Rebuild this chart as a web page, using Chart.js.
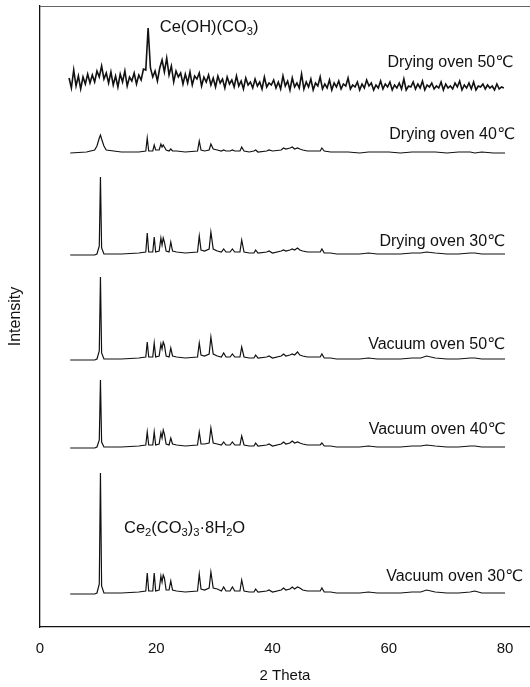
<!DOCTYPE html>
<html>
<head>
<meta charset="utf-8">
<title>XRD patterns</title>
<script src="https://cdn.jsdelivr.net/npm/chart.js@4.4.1/dist/chart.umd.min.js"></script>
<style>
  html, body { margin: 0; padding: 0; background: #fff; }
  #xrd { display: block; }
</style>
</head>
<body>
<canvas id="xrd" width="530" height="687"></canvas>
<script>
// 2 theta positions of the noisy scan (Drying oven 50)
const noisyTheta = [
  5.0, 5.4, 5.8, 6.2, 6.6, 7.0, 7.4, 7.8, 8.2, 8.6,
  9.0, 9.4, 9.8, 10.2, 10.6, 11.0, 11.4, 11.8, 12.2, 12.6,
  13.0, 13.4, 13.8, 14.2, 14.6, 15.0, 15.4, 15.8, 16.2, 16.6,
  17.0, 17.4, 17.8, 18.2, 18.6, 19.0, 19.4, 19.8, 20.2, 20.6,
  21.0, 21.4, 21.8, 22.2, 22.6, 23.0, 23.4, 23.8, 24.2, 24.6,
  25.0, 25.4, 25.8, 26.2, 26.6, 27.0, 27.4, 27.8, 28.2, 28.6,
  29.0, 29.4, 29.8, 30.2, 30.6, 31.0, 31.4, 31.8, 32.2, 32.6,
  33.0, 33.4, 33.8, 34.2, 34.6, 35.0, 35.4, 35.8, 36.2, 36.6,
  37.0, 37.4, 37.8, 38.2, 38.6, 39.0, 39.4, 39.8, 40.2, 40.6,
  41.0, 41.4, 41.8, 42.2, 42.6, 43.0, 43.4, 43.8, 44.2, 44.6,
  45.0, 45.4, 45.8, 46.2, 46.6, 47.0, 47.4, 47.8, 48.2, 48.6,
  49.0, 49.4, 49.8, 50.2, 50.6, 51.0, 51.4, 51.8, 52.2, 52.6,
  53.0, 53.4, 53.8, 54.2, 54.6, 55.0, 55.4, 55.8, 56.2, 56.6,
  57.0, 57.4, 57.8, 58.2, 58.6, 59.0, 59.4, 59.8, 60.2, 60.6,
  61.0, 61.4, 61.8, 62.2, 62.6, 63.0, 63.4, 63.8, 64.2, 64.6,
  65.0, 65.4, 65.8, 66.2, 66.6, 67.0, 67.4, 67.8, 68.2, 68.6,
  69.0, 69.4, 69.8, 70.2, 70.6, 71.0, 71.4, 71.8, 72.2, 72.6,
  73.0, 73.4, 73.8, 74.2, 74.6, 75.0, 75.4, 75.8, 76.2, 76.6,
  77.0, 77.4, 77.8, 78.2, 78.6, 79.0, 79.4, 79.8
]

const dryingOven50 = [
  2, -8, 10, -6, 4, -9, 3, -4, 6, -3,
  5, -2, 9, 3, 14, 1, 7, -3, 8, -5,
  4, -7, 6, -2, 9, -6, 3, -1, 7, -4,
  5, 0, 11, 10, 52, 12, 3, 9, -1, 12,
  20, 8, 22, 5, 14, -2, 9, 3, 7, -4,
  6, -3, 8, -5, 4, 1, 7, -6, 3, -2,
  5, -5, 2, -7, 4, -3, 1, -8, 3, -4,
  0, -7, 4, -6, -1, -9, 2, -5, -2, -8,
  1, -6, -2, -9, 3, -7, -3, -5, 0, -8,
  -2, -9, 4, -6, -1, -10, 2, -7, -3, -8,
  6, -9, -2, -7, 1, -10, -3, -6, 3, -9,
  -4, -8, 0, -10, -3, -7, -1, -9, -4, -6,
  2, -9, -5, -7, -2, -10, -4, -8, 0, -6,
  -3, -10, -5, -8, -1, -9, -4, -7, -2, -10,
  -5, -8, -3, -9, 1, -10, -6, -7, -2, -9,
  -4, -8, -1, -10, -5, -7, -3, -9, -6, -8,
  -2, -10, -4, -8, -6, -9, -3, -7, -1, -10,
  -5, -8, -3, -9, -2, -10, -6, -7, -4, -9,
  -5, -8, -6, -10, -4, -9, -7, -8
]

// 2 theta positions read for the crystalline scans
const peakTheta = [
  5.2, 8.0, 9.4, 9.8, 10.2, 10.4, 10.6, 11.0, 11.4, 14.0,
  17.0, 18.2, 18.45, 18.7, 19.4, 19.65, 19.9, 20.5, 20.8, 21.0,
  21.2, 21.4, 21.7, 22.2, 22.5, 22.8, 23.5, 25.0, 27.1, 27.4,
  27.7, 28.3, 29.1, 29.4, 29.8, 30.5, 31.2, 31.6, 32.0, 32.7,
  33.1, 33.5, 34.4, 34.7, 35.1, 36.0, 36.8, 37.1, 37.5, 39.0,
  39.4, 40.0, 41.5, 41.9, 42.3, 43.0, 43.4, 43.8, 44.3, 44.7,
  45.2, 46.0, 47.0, 48.2, 48.5, 48.9, 50.0, 51.0, 53.0, 55.0,
  56.5, 58.0, 60.0, 62.0, 64.0, 65.5, 66.5, 68.0, 70.0, 72.0,
  74.0, 74.8, 76.0, 78.0, 80.0
]

const dryingOven40 = [
  0, 1, 3, 7, 15, 18, 14, 7, 3, 1,
  1, 2, 15, 2, 2, 8, 3, 3, 9, 6,
  8, 6, 3, 2, 4, 2, 2, 1, 2, 12,
  3, 2, 3, 9, 4, 3, 2, 3, 2, 2,
  3, 2, 2, 6, 2, 1, 2, 3, 1, 2,
  3, 2, 3, 5, 4, 5, 6, 4, 5, 4,
  3, 2, 2, 2, 5, 2, 1, 1, 1, 0,
  1, 1, 1, 0, 1, 1, 1, 1, 0, 1,
  1, 0, 1, 0, 0
]

const dryingOven30 = [
  0, 0, 0, 1, 9, 78, 7, 1, 1, 1,
  2, 3, 22, 3, 3, 18, 3, 4, 17, 10,
  17, 13, 4, 3, 13, 4, 3, 2, 3, 19,
  5, 4, 6, 23, 6, 4, 3, 6, 3, 3,
  6, 3, 3, 15, 3, 2, 2, 5, 2, 3,
  4, 2, 4, 5, 4, 5, 6, 5, 7, 5,
  4, 3, 3, 3, 6, 2, 2, 1, 1, 1,
  2, 1, 1, 1, 2, 2, 3, 2, 1, 1,
  2, 2, 1, 1, 1
]

const vacuumOven50 = [
  0, 0, 0, 1, 9, 83, 7, 1, 1, 1,
  2, 3, 18, 3, 3, 17, 3, 4, 16, 11,
  18, 15, 4, 3, 12, 4, 3, 2, 3, 17,
  5, 4, 6, 23, 6, 4, 3, 7, 3, 3,
  6, 3, 3, 13, 3, 2, 2, 5, 2, 3,
  4, 2, 4, 6, 4, 5, 6, 5, 8, 5,
  4, 3, 3, 3, 6, 2, 2, 1, 1, 1,
  2, 1, 1, 1, 2, 2, 4, 2, 1, 1,
  2, 2, 1, 1, 1
]

const vacuumOven40 = [
  0, 0, 0, 1, 8, 68, 6, 1, 1, 1,
  2, 3, 16, 3, 3, 16, 3, 4, 15, 10,
  18, 14, 4, 3, 10, 4, 3, 2, 3, 16,
  4, 4, 5, 20, 5, 4, 3, 6, 3, 3,
  6, 3, 3, 12, 3, 2, 2, 5, 2, 3,
  4, 2, 4, 6, 4, 5, 7, 5, 6, 5,
  4, 3, 3, 3, 5, 2, 2, 1, 1, 1,
  2, 1, 1, 1, 2, 2, 3, 2, 1, 1,
  2, 2, 1, 1, 1
]

const vacuumOven30 = [
  0, 0, 0, 1, 10, 121, 8, 1, 1, 1,
  2, 3, 21, 3, 3, 21, 3, 4, 18, 12,
  19, 16, 4, 4, 13, 4, 3, 2, 3, 20,
  5, 4, 6, 22, 6, 5, 3, 7, 3, 3,
  7, 3, 3, 14, 3, 2, 2, 5, 2, 3,
  4, 2, 4, 6, 4, 5, 7, 5, 7, 6,
  4, 3, 3, 3, 6, 2, 2, 1, 1, 1,
  2, 1, 1, 1, 2, 2, 4, 2, 1, 1,
  2, 3, 1, 1, 1
]

const seriesNames = [
  'Drying oven 50℃', 'Drying oven 40℃', 'Drying oven 30℃',
  'Vacuum oven 50℃', 'Vacuum oven 40℃', 'Vacuum oven 30℃'
]
// vertical stacking of the patterns (a.u.)
const traceOffsets = [547, 474, 372, 267, 179, 33]
const xTicks = [0, 20, 40, 60, 80]

// where each name sits: right end (2 theta) and height (a.u.)
const nameSpots = [
  [81.4, 564], [81.7, 492], [80.0, 385], [80.0, 282], [80.1, 197], [83.1, 50]
]
// phase labels, [text, subscript?] parts
const phaseTop = [['Ce(OH)(CO', 0], ['3', 1], [')', 0]]
const phaseBottom = [['Ce', 0], ['2', 1], ['(CO', 0], ['3', 1], [')', 0], ['3', 1], ['·8H', 0], ['2', 1], ['O', 0]]

const FONT = '"Liberation Sans", Arial, "DejaVu Sans", sans-serif'
const INK = '#111'

function toPoints (theta, values, offset) {
  return theta.map((t, i) => ({ x: t, y: offset + values[i] }))
}

function makeDataset (name, theta, values, offset, width) {
  return {
    label: name,
    data: toPoints(theta, values, offset),
    borderColor: INK,
    borderWidth: width,
    pointRadius: 0,
    tension: 0,
    fill: false
  }
}

function drawRich (ctx, parts, x, y, size) {
  let cx = x
  parts.forEach(([txt, sub]) => {
    const s = sub ? size * 0.68 : size
    ctx.font = `${s}px ${FONT}`
    ctx.fillText(txt, cx, sub ? y + size * 0.28 : y)
    cx += ctx.measureText(txt).width
  })
}

const labelPlugin = {
  id: 'xrdLabels',
  afterDatasetsDraw (chart) {
    const { ctx, chartArea, scales } = chart
    const xs = scales.x
    const ys = scales.y
    ctx.save()
    // top frame line
    ctx.strokeStyle = '#666'
    ctx.lineWidth = 1
    ctx.beginPath()
    ctx.moveTo(chartArea.left, chartArea.top + 0.5)
    ctx.lineTo(chartArea.right, chartArea.top + 0.5)
    ctx.stroke()

    ctx.fillStyle = INK
    ctx.textBaseline = 'middle'
    ctx.textAlign = 'right'
    ctx.font = `16px ${FONT}`
    seriesNames.forEach((name, i) => {
      const [t, v] = nameSpots[i]
      ctx.fillText(name, xs.getPixelForValue(t), ys.getPixelForValue(v))
    })
    ctx.textAlign = 'left'
    drawRich(ctx, phaseTop, xs.getPixelForValue(20.6), ys.getPixelForValue(600), 16.5)
    drawRich(ctx, phaseBottom, xs.getPixelForValue(14.45), ys.getPixelForValue(99), 16.5)
    ctx.restore()
  }
}

const datasets = [
  makeDataset(seriesNames[0], noisyTheta, dryingOven50, traceOffsets[0], 1.6),
  makeDataset(seriesNames[1], peakTheta, dryingOven40, traceOffsets[1], 1.2),
  makeDataset(seriesNames[2], peakTheta, dryingOven30, traceOffsets[2], 1.2),
  makeDataset(seriesNames[3], peakTheta, vacuumOven50, traceOffsets[3], 1.2),
  makeDataset(seriesNames[4], peakTheta, vacuumOven40, traceOffsets[4], 1.2),
  makeDataset(seriesNames[5], peakTheta, vacuumOven30, traceOffsets[5], 1.2)
]

new Chart(document.getElementById('xrd').getContext('2d'), {
  type: 'line',
  data: { datasets },
  options: {
    responsive: false,
    devicePixelRatio: 1,
    animation: false,
    layout: { padding: { top: 6, left: 0, right: 0, bottom: 0 } },
    plugins: {
      legend: { display: false },
      tooltip: { enabled: false }
    },
    scales: {
      x: {
        type: 'linear',
        min: 0,
        max: 84.3,
        afterBuildTicks: axis => { axis.ticks = xTicks.map(v => ({ value: v })) },
        afterFit: axis => { axis.height = 60 },
        grid: { display: false, drawTicks: false },
        border: { display: true, color: INK, width: 1.3 },
        ticks: {
          padding: 13,
          maxRotation: 0,
          color: INK,
          font: { family: FONT, size: 15 }
        },
        title: {
          display: true,
          text: '2 Theta',
          color: INK,
          font: { family: FONT, size: 15 },
          padding: { top: 0, bottom: 2 }
        }
      },
      y: {
        type: 'linear',
        min: 0,
        max: 621,
        afterFit: axis => { axis.width = 40 },
        grid: { display: false, drawTicks: false },
        border: { display: true, color: INK, width: 1.3 },
        ticks: { display: false },
        title: {
          display: true,
          text: 'Intensity',
          color: INK,
          font: { family: FONT, size: 16 },
          padding: { top: 6, bottom: 0 }
        }
      }
    }
  },
  plugins: [labelPlugin]
})
</script>
</body>
</html>
